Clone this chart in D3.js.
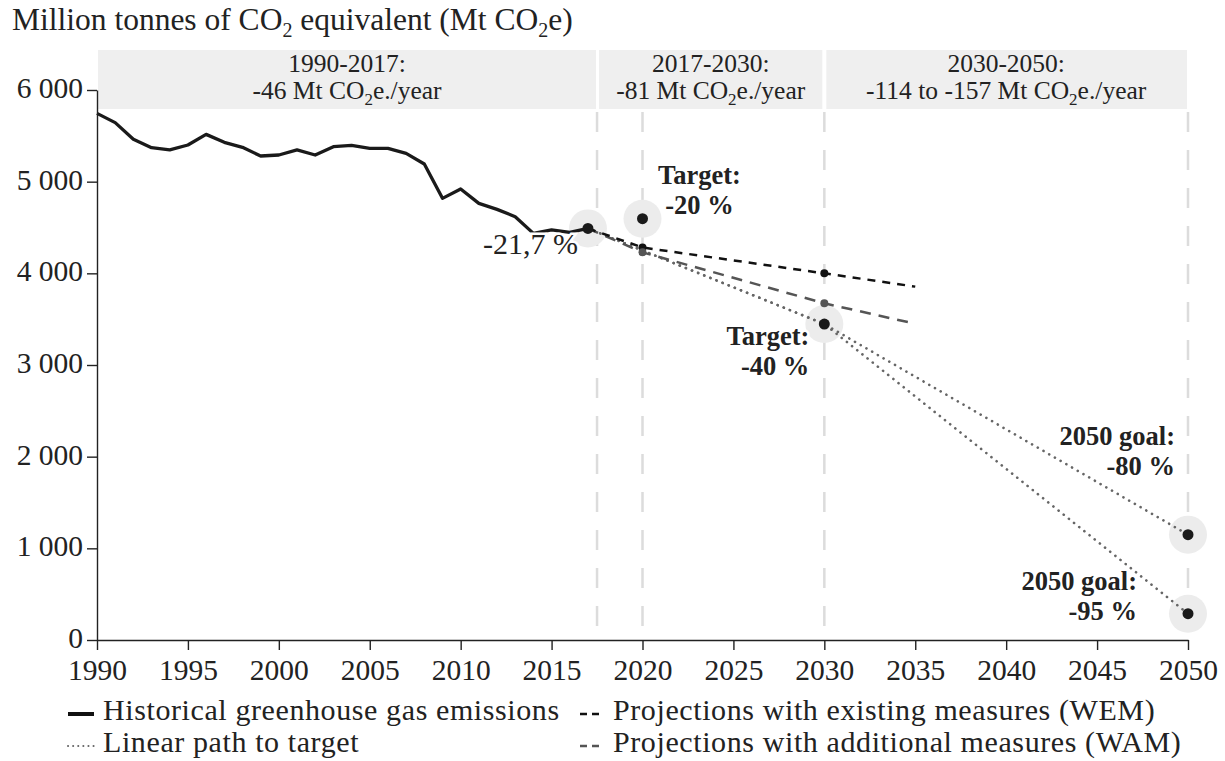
<!DOCTYPE html>
<head>
  <meta charset="utf-8">
  <script src="https://d3js.org/d3.v7.min.js"></script>
  <style>
    body { margin: 0; background: #fff; }
    svg { width: 1225px; height: 761px; font-family: "Liberation Serif", "Times New Roman", serif; }
  </style>
</head>
<body>
  <svg></svg>
  <script>
    // historical emissions, Mt CO2e
    var histYears = [1990, 1991, 1992, 1993, 1994, 1995, 1996, 1997, 1998, 1999,
      2000, 2001, 2002, 2003, 2004, 2005, 2006, 2007, 2008, 2009,
      2010, 2011, 2012, 2013, 2014, 2015, 2016, 2017];
    var histValues = [5745, 5644, 5462, 5371, 5346, 5400, 5516, 5429, 5375, 5280,
      5291, 5346, 5291, 5382, 5396, 5364, 5364, 5309, 5193, 4818,
      4920, 4763, 4698, 4618, 4436, 4473, 4447, 4490];

    // projections
    var projYears = [2017, 2020, 2030, 2035];
    var wemValues = [4490, 4282, 4000, 3855];
    var wamValues = [4490, 4229, 3673, 3450];

    // targets
    var targetYears = [2020, 2030, 2050, 2050];
    var targetValues = [4596, 3447, 1149, 287];
    var pathYears = [2017, 2030, 2050];
    var path80 = [4490, 3447, 1149];
    var path95 = [4490, 3447, 287];

    // periods shown in the header bands
    var periodStart = [1990, 2017.5, 2030];
    var periodEnd = [2017.5, 2030, 2050];
    var periodTitle = ['1990-2017:', '2017-2030:', '2030-2050:'];
    var periodRate = ['-46', '-81', '-114 to -157'];
    var gridYears = [2017.5, 2020, 2030, 2050];

    var xTicks = [1990, 1995, 2000, 2005, 2010, 2015, 2020, 2025, 2030, 2035, 2040, 2045, 2050];
    var yTicks = [0, 1000, 2000, 3000, 4000, 5000, 6000];

    var svg = d3.select('svg');
    var x = d3.scaleLinear().domain([1990, 2050]).range([97, 1188]);
    var y = d3.scaleLinear().domain([0, 6000]).range([640, 90]);
    var fmt = d3.formatLocale({decimal: ',', thousands: ' ', grouping: [3], currency: ['', '']}).format(',d');

    // title
    var title = svg.append('text').attr('x', 12).attr('y', 30)
      .style('font-size', '31.5px').attr('fill', '#222');
    title.append('tspan').text('Million tonnes of CO');
    title.append('tspan').attr('dy', 7).style('font-size', '20px').text('2');
    title.append('tspan').attr('dy', -7).text(' equivalent (Mt CO');
    title.append('tspan').attr('dy', 7).style('font-size', '20px').text('2');
    title.append('tspan').attr('dy', -7).text('e)');

    // header bands
    var bands = svg.selectAll('g.band').data(periodStart).enter().append('g');
    bands.append('rect')
      .attr('x', function(d, i) { return x(d) + (i == 0 ? 1 : 2); })
      .attr('width', function(d, i) { return x(periodEnd[i]) - x(d) - (i == 0 ? 2 : 4) + (i == 2 ? 1 : 0); })
      .attr('y', 50).attr('height', 59)
      .attr('fill', '#efefef');
    bands.append('text')
      .attr('x', function(d, i) { return (x(d) + x(periodEnd[i])) / 2; })
      .attr('y', 72).attr('text-anchor', 'middle')
      .style('font-size', '25.5px').attr('fill', '#222')
      .text(function(d, i) { return periodTitle[i]; });
    var rateText = bands.append('text')
      .attr('x', function(d, i) { return (x(d) + x(periodEnd[i])) / 2; })
      .attr('y', 99).attr('text-anchor', 'middle')
      .style('font-size', '25.5px').attr('fill', '#222');
    rateText.append('tspan').text(function(d, i) { return periodRate[i] + ' Mt CO'; });
    rateText.append('tspan').attr('dy', 6).style('font-size', '17px').text('2');
    rateText.append('tspan').attr('dy', -6).text('e./year');

    // vertical dashed guides
    svg.selectAll('line.grid').data(gridYears).enter().append('line')
      .attr('x1', x).attr('x2', x)
      .attr('y1', 112).attr('y2', 640)
      .attr('stroke', '#dcdcdc').attr('stroke-width', 2.5)
      .attr('stroke-dasharray', '20,18');

    // halos
    var halos = [[2017, 4490]].concat(targetYears.map(function(d, i) { return [d, targetValues[i]]; }));
    svg.selectAll('circle.halo').data(halos).enter().append('circle')
      .attr('cx', function(d) { return x(d[0]); })
      .attr('cy', function(d) { return y(d[1]); })
      .attr('r', 19).attr('fill', '#ececec');

    var line = d3.line()
      .x(function(d) { return x(d[0]); })
      .y(function(d) { return y(d[1]); });
    function pairs(xs, vs) { return xs.map(function(d, i) { return [d, vs[i]]; }); }

    // linear paths to target
    [path80, path95].forEach(function(vals) {
      svg.append('path').attr('d', line(pairs(pathYears, vals)))
        .attr('fill', 'none').attr('stroke', '#666').attr('stroke-width', 2.6)
        .attr('stroke-linecap', 'round').attr('stroke-dasharray', '0.1,6.5');
    });

    // projections
    svg.append('path').attr('d', line(pairs(projYears, wamValues)))
      .attr('fill', 'none').attr('stroke', '#555').attr('stroke-width', 2.5)
      .attr('stroke-dasharray', '11,8');
    svg.append('path').attr('d', line(pairs(projYears, wemValues)))
      .attr('fill', 'none').attr('stroke', '#111').attr('stroke-width', 2.5)
      .attr('stroke-dasharray', '8,7');

    // historical
    svg.append('path').attr('d', line(pairs(histYears, histValues)))
      .attr('fill', 'none').attr('stroke', '#1a1a1a').attr('stroke-width', 3.3)
      .attr('stroke-linejoin', 'round');

    // projection markers (2020, 2030)
    [[wemValues, '#111'], [wamValues, '#555']].forEach(function(s) {
      svg.selectAll(null).data([1, 2]).enter().append('circle')
        .attr('cx', function(i) { return x(projYears[i]); })
        .attr('cy', function(i) { return y(s[0][i]); })
        .attr('r', 4).attr('fill', s[1]);
    });

    // target markers
    svg.selectAll('circle.dot').data(halos).enter().append('circle')
      .attr('cx', function(d) { return x(d[0]); })
      .attr('cy', function(d) { return y(d[1]); })
      .attr('r', 5.5).attr('fill', '#1a1a1a');

    // annotations
    function label(px, py, anchor, lines, bold, size) {
      var t = svg.append('text').attr('text-anchor', anchor)
        .style('font-size', size + 'px').style('font-weight', bold ? 'bold' : 'normal')
        .attr('fill', '#222')
        .attr('stroke', '#fff').attr('stroke-width', 5).attr('paint-order', 'stroke');
      lines.forEach(function(l, i) {
        t.append('tspan').attr('x', px).attr('y', py + i * 30).text(l);
      });
    }
    label(x(2017) - 10, y(4490) + 26, 'end', ['-21,7 %'], false, 30);
    label(x(2020) + 57, y(4596) - 35, 'middle', ['Target:', '-20 %'], true, 26.5);
    label(x(2030) - 15, y(3447) + 21, 'end', ['Target:', '-40 %'], true, 26.5);
    label(x(2050) - 13, y(1149) - 90, 'end', ['2050 goal:', '-80 %'], true, 26.5);
    label(x(2050) - 51, y(287) - 24, 'end', ['2050 goal:', '-95 %'], true, 26.5);

    // axes
    var yAxis = svg.append('g').attr('transform', 'translate(97,0)')
      .call(d3.axisLeft(y).tickValues(yTicks).tickFormat(fmt).tickSize(10).tickPadding(4).tickSizeOuter(0));
    var xAxis = svg.append('g').attr('transform', 'translate(0,640)')
      .call(d3.axisBottom(x).tickValues(xTicks).tickFormat(d3.format('d')).tickSize(10).tickPadding(3).tickSizeOuter(0));
    [yAxis, xAxis].forEach(function(a) {
      a.selectAll('path, line').attr('stroke', '#222').attr('stroke-width', 1.4);
      a.selectAll('text').attr('fill', '#222')
        .style('font-family', '"Liberation Serif", serif').style('font-size', '29.5px');
    });
    xAxis.selectAll('text').attr('dy', '0.92em');
    yAxis.selectAll('text').attr('dy', '0.25em');

    // legend
    var legendX = [68, 578];
    var legendY = [720, 752];
    var legendItems = [
      {col: 0, row: 0, text: 'Historical greenhouse gas emissions', stroke: '#111', width: 4, dash: null},
      {col: 1, row: 0, text: 'Projections with existing measures (WEM)', stroke: '#111', width: 2.5, dash: '7,5'},
      {col: 0, row: 1, text: 'Linear path to target', stroke: '#666', width: 2, dash: '0.1,5'},
      {col: 1, row: 1, text: 'Projections with additional measures (WAM)', stroke: '#555', width: 2.5, dash: '7,5'}
    ];
    var leg = svg.selectAll('g.legend').data(legendItems).enter().append('g')
      .attr('transform', function(d) { return 'translate(' + [legendX[d.col], legendY[d.row]] + ')'; });
    leg.append('line')
      .attr('x1', function(d) { return d.col ? 2 : 0; }).attr('x2', function(d) { return d.col ? 22 : 26; })
      .attr('y1', -6).attr('y2', -6)
      .attr('stroke', function(d) { return d.stroke; })
      .attr('stroke-width', function(d) { return d.width; })
      .attr('stroke-linecap', function(d) { return d.row == 1 && d.col == 0 ? 'round' : 'butt'; })
      .attr('stroke-dasharray', function(d) { return d.dash; });
    leg.append('text')
      .attr('x', 35)
      .style('font-size', '30px').style('letter-spacing', '0.6px').attr('fill', '#222')
      .text(function(d) { return d.text; });
  </script>
</body>
